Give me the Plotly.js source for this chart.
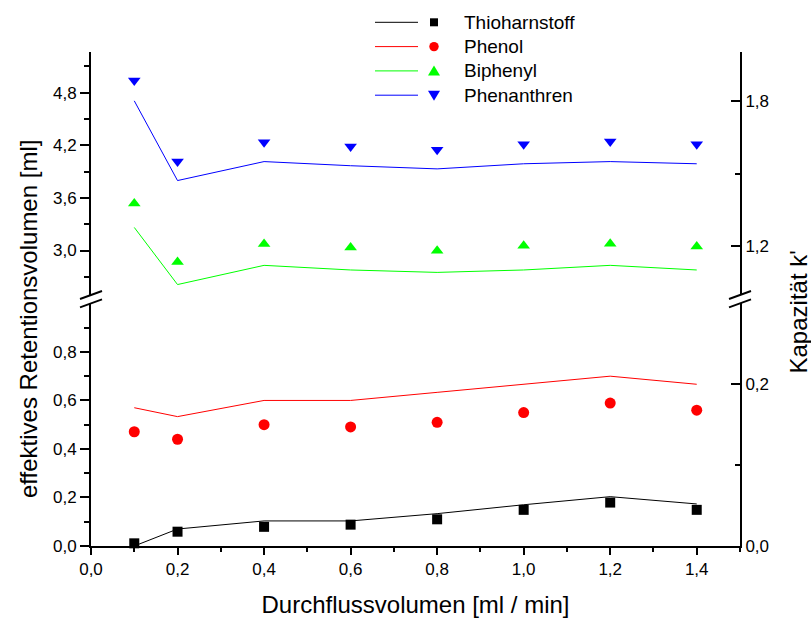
<!DOCTYPE html>
<html>
<head>
<meta charset="utf-8">
<script src="https://cdn.plot.ly/plotly-3.0.1.min.js"></script>
<style>html,body{margin:0;padding:0;background:#fff;}#chart{width:811px;height:619px;}</style>
</head>
<body>
<div id="chart"></div>
<script>
// ---- data ----
const flow = [0.1, 0.2, 0.4, 0.6, 0.8, 1.0, 1.2, 1.4];          // Durchflussvolumen [ml/min]
// effektives Retentionsvolumen [ml] (markers, left axis)
const thioV        = [0.011, 0.059, 0.079, 0.088, 0.110, 0.149, 0.179, 0.149];
const phenolV      = [0.471, 0.440, 0.500, 0.491, 0.510, 0.550, 0.589, 0.560];
const biphenylV    = [3.536, 2.869, 3.074, 3.035, 2.998, 3.055, 3.077, 3.047];
const phenanthrenV = [4.937, 4.014, 4.235, 4.185, 4.148, 4.212, 4.242, 4.212];
// Kapazität k' (lines, right axis)
const thioK        = [0.000, 0.021, 0.031, 0.031, 0.040, 0.051, 0.061, 0.052];
const phenolK      = [0.171, 0.160, 0.180, 0.180, 0.190, 0.200, 0.210, 0.200];
const biphenylK    = [1.278, 1.043, 1.122, 1.103, 1.093, 1.103, 1.122, 1.103];
const phenanthrenK = [1.799, 1.471, 1.549, 1.532, 1.519, 1.540, 1.549, 1.540];

const seriesNames  = ["Thioharnstoff", "Phenol", "Biphenyl", "Phenanthren"];
const seriesColors = ["#000000", "#ff0000", "#00ff00", "#0000ff"];
const seriesSymbols = ["square", "circle", "triangle-up", "triangle-down"];

// tick values
const xTicks = [0, 0.2, 0.4, 0.6, 0.8, 1.0, 1.2, 1.4];
const leftLowTicks = [0, 0.2, 0.4, 0.6, 0.8];
const leftLowMinor = [0.1, 0.3, 0.5, 0.7, 0.9];
const leftHighTicks = [3.0, 3.6, 4.2, 4.8];
const leftHighMinor = [2.7, 3.3, 3.9, 4.5, 5.1];
const rightLowTicks = [0, 0.2];
const rightLowMinor = [0.1];
const rightHighTicks = [1.2, 1.8];
const rightHighMinor = [1.5];

// ---- layout geometry ----
const W = 811, H = 619;
const M = {l: 91, r: 71, t: 52, b: 73};
const PW = W - M.l - M.r, PH = H - M.t - M.b;
const px2x = p => (p - M.l) / PW;
const px2y = p => (H - M.b - p) / PH;
const FONT = "Liberation Sans, Arial, sans-serif";

const markerV = [thioV, phenolV, biphenylV, phenanthrenV];
const lineK = [thioK, phenolK, biphenylK, phenanthrenK];
const markerAxis = ["y", "y", "y2", "y2"];
const lineAxis = ["y3", "y3", "y4", "y4"];
const markerSizes = [10, 11, 11, 11];

const traces = [];
for (let i = 0; i < 4; i++) {
  traces.push({
    x: flow, y: lineK[i], xaxis: "x", yaxis: lineAxis[i], type: "scatter", mode: "lines",
    name: seriesNames[i] + " k'", line: {color: seriesColors[i], width: 1}, showlegend: false,
    hoverinfo: "skip"
  });
}
for (let i = 0; i < 4; i++) {
  traces.push({
    x: flow, y: markerV[i], xaxis: "x", yaxis: markerAxis[i], type: "scatter", mode: "markers",
    name: seriesNames[i], marker: {color: seriesColors[i], symbol: seriesSymbols[i], size: markerSizes[i], line: {width: 0}},
    showlegend: false, cliponaxis: false
  });
}

const tickFont = {family: FONT, size: 17, color: "#000"};
const baseY = {
  showgrid: false, zeroline: false, showline: true, linecolor: "#000", linewidth: 2,
  tickcolor: "#000", tickwidth: 2, tickfont: tickFont, tickformat: ".1f", tickmode: "array",
  fixedrange: true
};

const lowDom = [0, px2y(303.4)];
const highDom = [px2y(295), 1];

const layout = {
  width: W, height: H, margin: M, paper_bgcolor: "#fff", plot_bgcolor: "#fff",
  separators: ",.", showlegend: false, font: {family: FONT, color: "#000"},
  xaxis: {
    range: [0, 1.5], anchor: "y", showgrid: false, zeroline: false, showline: true,
    linecolor: "#000", linewidth: 2, ticks: "outside", ticklen: 7, tickwidth: 2, tickcolor: "#000",
    tickmode: "array", tickvals: xTicks, tickformat: ".1f", tickfont: tickFont,
    minor: {tickmode: "linear", tick0: 0, dtick: 0.1, ticks: "outside", ticklen: 4, tickwidth: 2, tickcolor: "#000"},
    title: {text: "Durchflussvolumen [ml / min]", font: {family: FONT, size: 24, color: "#000"}, standoff: 18},
    fixedrange: true
  },
  yaxis: Object.assign({}, baseY, {
    domain: lowDom, range: [0, 1.0], anchor: "x", side: "left",
    ticks: "outside", ticklen: 9, tickvals: leftLowTicks,
    minor: {tickmode: "array", tickvals: leftLowMinor, ticks: "outside", ticklen: 5, tickwidth: 2, tickcolor: "#000"}
  }),
  yaxis2: Object.assign({}, baseY, {
    domain: highDom, range: [2.493, 5.263], anchor: "x", side: "left",
    ticks: "outside", ticklen: 9, tickvals: leftHighTicks,
    minor: {tickmode: "array", tickvals: leftHighMinor, ticks: "outside", ticklen: 5, tickwidth: 2, tickcolor: "#000"}
  }),
  yaxis3: Object.assign({}, baseY, {
    overlaying: "y", range: [0, 0.3], anchor: "x", side: "right",
    ticks: "inside", ticklen: 9, tickvals: rightLowTicks,
    minor: {tickmode: "array", tickvals: rightLowMinor, ticks: "inside", ticklen: 5, tickwidth: 2, tickcolor: "#000"}
  }),
  yaxis4: Object.assign({}, baseY, {
    overlaying: "y2", range: [1.0, 2.0], anchor: "x", side: "right",
    ticks: "inside", ticklen: 9, tickvals: rightHighTicks,
    minor: {tickmode: "array", tickvals: rightHighMinor, ticks: "inside", ticklen: 5, tickwidth: 2, tickcolor: "#000"}
  }),
  shapes: [],
  annotations: [
    {text: "effektives Retentionsvolumen [ml]", textangle: -90, xref: "paper", yref: "paper",
     x: px2x(29), y: px2y(319), xanchor: "center", yanchor: "middle", showarrow: false,
     font: {family: FONT, size: 24, color: "#000"}},
    {text: "Kapazität k'", textangle: -90, xref: "paper", yref: "paper",
     x: px2x(798), y: px2y(312.5), xanchor: "center", yanchor: "middle", showarrow: false,
     font: {family: FONT, size: 24, color: "#000"}}
  ]
};

// axis-break marks
[0, 1].forEach(xa => {
  [[highDom[0], "up"], [lowDom[1], "low"]].forEach(([yp]) => {
    layout.shapes.push({
      type: "line", xref: "paper", yref: "paper", xsizemode: "pixel", ysizemode: "pixel",
      xanchor: xa, yanchor: yp, x0: -11, x1: 11, y0: -4, y1: 4,
      line: {color: "#000", width: 2}
    });
  });
});

// custom legend: line, then marker, then text
const legLineX0 = 375, legLineX1 = 418, legMarkX = 434, legTextX = 462;
const legY0 = 22.3, legDY = 24.3;
const legPaths = {
  "square": "M-4,-4 L4,-4 L4,4 L-4,4 Z",
  "circle": null,
  "triangle-up": "M-6,-4.5 L6,-4.5 L0,5.5 Z",
  "triangle-down": "M-6,4.5 L6,4.5 L0,-5.5 Z"
};
for (let i = 0; i < 4; i++) {
  const yy = px2y(legY0 + i * legDY);
  layout.shapes.push({
    type: "line", xref: "paper", yref: "paper", x0: px2x(legLineX0), x1: px2x(legLineX1), y0: yy, y1: yy,
    line: {color: seriesColors[i], width: 1}
  });
  if (seriesSymbols[i] === "circle") {
    layout.shapes.push({
      type: "circle", xref: "paper", yref: "paper", xsizemode: "pixel", ysizemode: "pixel",
      xanchor: px2x(legMarkX), yanchor: yy, x0: -4.7, x1: 4.7, y0: -4.7, y1: 4.7,
      fillcolor: seriesColors[i], line: {width: 0}
    });
  } else {
    layout.shapes.push({
      type: "path", xref: "paper", yref: "paper", xsizemode: "pixel", ysizemode: "pixel",
      xanchor: px2x(legMarkX), yanchor: yy, path: legPaths[seriesSymbols[i]],
      fillcolor: seriesColors[i], line: {width: 0}
    });
  }
  layout.annotations.push({
    text: seriesNames[i], xref: "paper", yref: "paper", x: px2x(legTextX), y: yy,
    xanchor: "left", yanchor: "middle", showarrow: false,
    font: {family: FONT, size: 19, color: "#000"}
  });
}

Plotly.newPlot("chart", traces, layout, {displayModeBar: false, staticPlot: true});
</script>
</body>
</html>
